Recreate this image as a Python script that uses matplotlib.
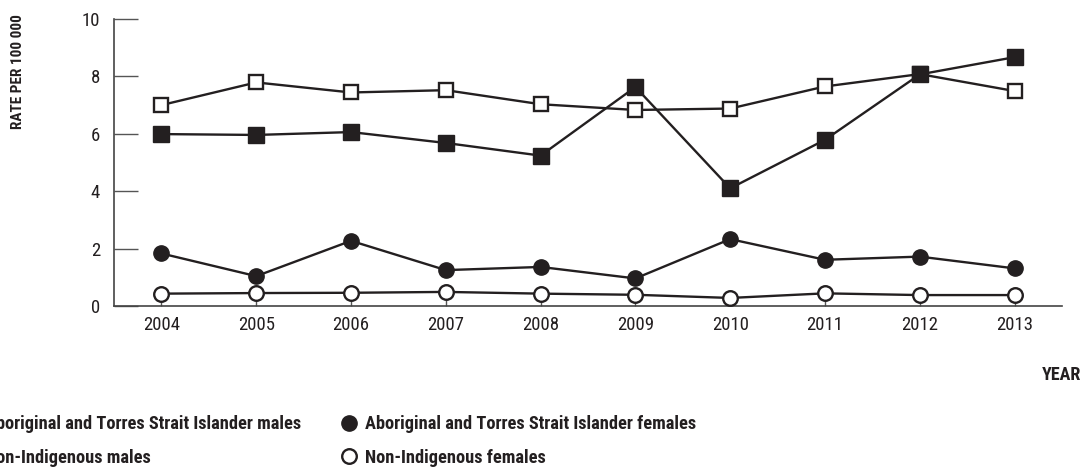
import matplotlib.pyplot as plt
import numpy as np

# Data
years = [2004, 2005, 2006, 2007, 2008, 2009, 2010, 2011, 2012, 2013]
ab_males = [5.99, 5.96, 6.06, 5.68, 5.24, 7.63, 4.10, 5.79, 8.07, 8.67]
non_males = [7.00, 7.79, 7.44, 7.52, 7.03, 6.83, 6.88, 7.65, 8.08, 7.49]
ab_females = [1.83, 1.04, 2.27, 1.25, 1.36, 0.96, 2.33, 1.61, 1.72, 1.31]
non_females = [0.43, 0.45, 0.46, 0.49, 0.43, 0.39, 0.28, 0.44, 0.38, 0.38]
labels = ['Aboriginal and Torres Strait Islander males', 'Non-Indigenous males',
          'Aboriginal and Torres Strait Islander females', 'Non-Indigenous females']
yticks = [0, 2, 4, 6, 8, 10]

ink = '#231f20'
plt.rcParams['font.family'] = ['Roboto Condensed', 'PT Sans Narrow', 'DejaVu Sans']

fig = plt.figure(figsize=(10.83, 4.67), dpi=100)
ax = fig.add_axes([0.1053, 0.3448, 0.8753, 0.6145])

# lines first, markers on top
for vals in [ab_males, non_males, ab_females, non_females]:
    ax.plot(years, vals, color=ink, lw=1.7, zorder=2)

h_nf, = ax.plot(years, non_females, 'o', ms=10.5, mfc='white', mec=ink, mew=1.7,
                ls='none', zorder=3, label=labels[3])
h_af, = ax.plot(years, ab_females, 'o', ms=11, mfc=ink, mec=ink,
                ls='none', zorder=3, label=labels[2])
h_nm, = ax.plot(years, non_males, 's', ms=10, mfc='white', mec=ink, mew=1.7,
                ls='none', zorder=3, label=labels[1])
h_am, = ax.plot(years, ab_males, 's', ms=12, mfc=ink, mec=ink,
                ls='none', zorder=4, label=labels[0])

ax.set_xlim(2003.5, 2013.5)
ax.set_ylim(0, 10)
ax.set_xticks(years)
ax.set_yticks(yticks)
ax.tick_params(axis='y', direction='in', length=17, width=1, color='#555555',
               labelsize=13.5, pad=10, labelcolor=ink)
ax.tick_params(axis='x', direction='in', length=4, width=1, color='#555555',
               labelsize=13.5, pad=7, labelcolor=ink)
for s in ['top', 'right']:
    ax.spines[s].set_visible(False)
for s in ['left', 'bottom']:
    ax.spines[s].set_color('#444444')
    ax.spines[s].set_linewidth(1.2)

fig.text(0.017, 0.97, 'RATE PER 100 000', rotation=90, ha='center', va='top',
         fontsize=11, fontweight='bold', color=ink)
fig.text(0.998, 0.197, 'YEAR', ha='right', va='center', fontsize=13,
         fontweight='bold', color=ink)

# two legend columns, the left one runs off the page as in the original
leg_kw = dict(loc='upper left', frameon=False, handlelength=0.9,
              handletextpad=0.42, labelspacing=0.86, borderpad=0,
              prop={'size': 13.2, 'weight': 'bold'}, labelcolor=ink)
leg1 = fig.legend(handles=[h_am, h_nm], bbox_to_anchor=(-0.045, 0.131), **leg_kw)
leg2 = fig.legend(handles=[h_af, h_nf], bbox_to_anchor=(0.3065, 0.131), **leg_kw)

fig.savefig('out.png', dpi=100)
